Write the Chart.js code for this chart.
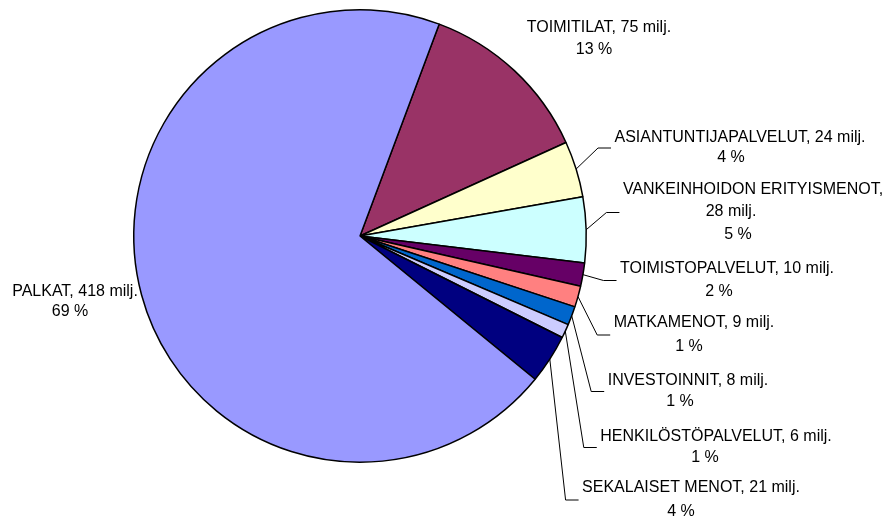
<!DOCTYPE html>
<html>
<head>
<meta charset="utf-8">
<script src="https://cdn.jsdelivr.net/npm/chart.js@4/dist/chart.umd.min.js"></script>
<style>
  html, body { margin: 0; padding: 0; background: #ffffff; }
  #wrap { width: 886px; height: 520px; position: relative; }
</style>
</head>
<body>
<div id="wrap"><canvas id="c" width="886" height="520"></canvas></div>
<script>
const categories = ['TOIMITILAT', 'ASIANTUNTIJAPALVELUT', 'VANKEINHOIDON ERITYISMENOT', 'TOIMISTOPALVELUT', 'MATKAMENOT', 'INVESTOINNIT', 'HENKILÖSTÖPALVELUT', 'SEKALAISET MENOT', 'PALKAT'];
const valuesMilj = [75, 24, 28, 10, 9, 8, 6, 21, 418];
const percentLabels = [13, 4, 5, 2, 1, 1, 1, 4, 69];
const sliceColors = ['#993366', '#FFFFCC', '#CCFFFF', '#660066', '#FF8080', '#0066CC', '#CCCCFF', '#000080', '#9999FF'];

// label layout: per-line centre positions; leader = whether a leader line is drawn
const labelLayout = [
  { lines: [[599, 28], [594, 50]], leader: false },
  { lines: [[740, 138], [731, 158]], leader: true },
  { lines: [[753, 190], [731, 212], [738, 235]], leader: true, wrap: true },
  { lines: [[727, 269], [719, 292]], leader: true },
  { lines: [[694, 323], [689, 347]], leader: true },
  { lines: [[688, 381], [680, 402]], leader: true },
  { lines: [[716, 437], [705, 458]], leader: true },
  { lines: [[691, 488], [681, 512]], leader: true },
  { lines: [[75, 292], [70, 312]], leader: false }
];

function labelLines(i) {
  const pct = percentLabels[i] + ' %';
  if (labelLayout[i].wrap) {
    return [categories[i] + ',', valuesMilj[i] + ' milj.', pct];
  }
  return [categories[i] + ', ' + valuesMilj[i] + ' milj.', pct];
}

const labelPlugin = {
  id: 'pieLabels',
  afterDatasetsDraw(chart) {
    const ctx = chart.ctx;
    const meta = chart.getDatasetMeta(0);
    ctx.save();
    ctx.font = '16px "Liberation Sans", Arial, sans-serif';
    ctx.fillStyle = '#000000';
    ctx.textAlign = 'center';
    ctx.textBaseline = 'middle';
    meta.data.forEach((arc, i) => {
      const lay = labelLayout[i];
      const lines = labelLines(i);
      lines.forEach((t, k) => {
        ctx.fillText(t, lay.lines[k][0], lay.lines[k][1]);
      });
      if (lay.leader) {
        const p = arc.getProps(['x', 'y', 'startAngle', 'endAngle', 'outerRadius'], true);
        const mid = (p.startAngle + p.endAngle) / 2;
        const sx = p.x + Math.cos(mid) * p.outerRadius;
        const sy = p.y + Math.sin(mid) * p.outerRadius;
        const w = ctx.measureText(lines[0]).width;
        const left = lay.lines[0][0] - w / 2;
        const ys = lay.lines.map(l => l[1]);
        const midY = (Math.min(...ys) + Math.max(...ys)) / 2;
        const endX = left - 3.5;
        const elbowX = endX - 13;
        ctx.beginPath();
        ctx.strokeStyle = '#000000';
        ctx.lineWidth = 1;
        ctx.moveTo(sx, sy);
        ctx.lineTo(elbowX, midY);
        ctx.lineTo(endX, midY);
        ctx.stroke();
      }
    });
    ctx.restore();
  }
};

new Chart(document.getElementById('c'), {
  type: 'pie',
  data: {
    labels: categories,
    datasets: [{
      data: valuesMilj,
      backgroundColor: sliceColors,
      borderColor: '#000000',
      borderWidth: 1.5,
      borderAlign: 'center'
    }]
  },
  options: {
    responsive: false,
    animation: false,
    rotation: 20.5,
    layout: { padding: { left: 133, right: 299, top: 9, bottom: 57 } },
    plugins: {
      legend: { display: false },
      tooltip: { enabled: false }
    }
  },
  plugins: [labelPlugin]
});
</script>
</body>
</html>
